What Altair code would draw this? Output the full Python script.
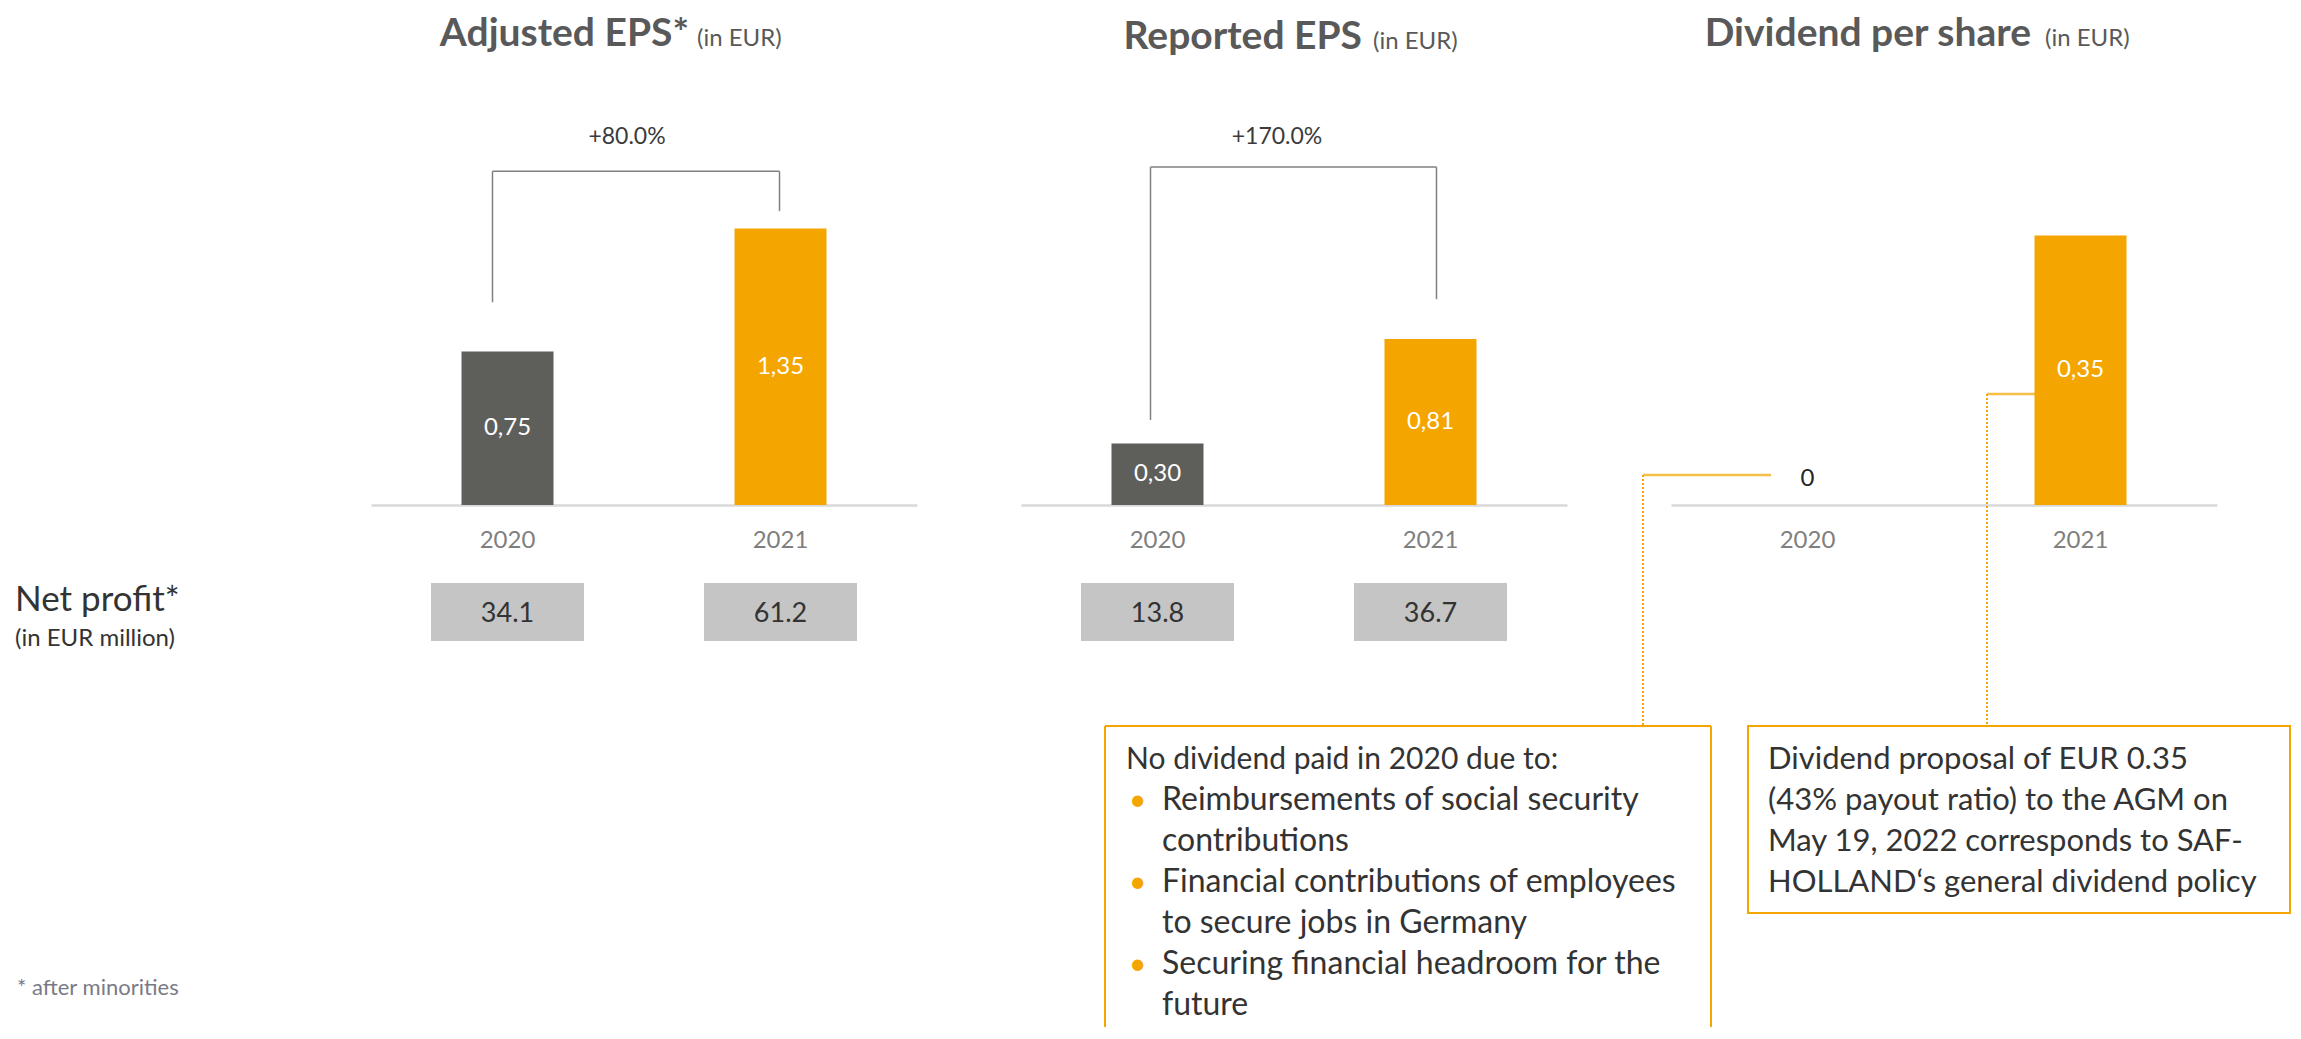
import altair as alt
import pandas as pd

# ---------------- data ----------------
years = ["2020", "2021"]
adjusted_eps = [0.75, 1.35]
reported_eps = [0.30, 0.81]
dividend_ps = [0.0, 0.35]
net_profit_adjusted = [34.1, 61.2]
net_profit_reported = [13.8, 36.7]
growth_labels = ["+80.0%", "+170.0%"]

panel_titles = ["Adjusted EPS*", "Reported EPS", "Dividend per share"]
title_unit = "(in EUR)"

bracket_top = [1.63, 1.65]
bracket_from = [0.99, 0.415]
bracket_to = [1.435, 1.005]

net_profit_title = "Net profit*"
net_profit_unit = "(in EUR million)"
footnote = "* after minorities"

box1_heading = "No dividend paid in 2020 due to:"
box1_lines = ["Reimbursements of social security", "contributions",
              "Financial contributions of employees", "to secure jobs in Germany",
              "Securing financial headroom for the", "future"]
box1_bullet_rows = [0, 2, 4]
bullet_char = "\u2022"
box2_lines = ["Dividend proposal of EUR 0.35", "(43% payout ratio) to the AGM on",
              "May 19, 2022 corresponds to SAF-", "HOLLAND\u2018s general dividend policy"]

# ---------------- style ----------------
FONT = "Lato"
ORANGE = "#f5a500"
ORANGE_LIGHT = "#f7be48"
BAR_GREY = "#5e5e5b"
BOX_GREY = "#c4c5c4"
TITLE_C = "#595959"
TEXT_C = "#333333"
YEAR_C = "#7f7f7f"
BRACKET_C = "#808080"
FOOT_C = "#7a7a86"

PANEL_W = 546
PANEL_H = 385
SPACING = 104
LINE_H = 41
BOTTOM = 907

one = alt.Data(values=[{"k": 0}])

xscale = alt.Scale(domain=years, paddingInner=0, paddingOuter=0)
xaxis = alt.Axis(title=None, labelAngle=0, labelFontSize=24, labelColor=YEAR_C, labelFont=FONT,
                 labelBaseline="alphabetic", labelPadding=42, ticks=False, tickSize=0,
                 domainColor="#d9d9d9", domainWidth=2.5, grid=False)


def xenc():
    return alt.X("year:N", sort=years, scale=xscale, axis=xaxis)


def ptext(txt, x, y, size, color, weight="normal", align="left", line_height=None):
    kw = dict(fontSize=size, color=color, fontWeight=weight, align=align,
              baseline="alphabetic", font=FONT)
    if line_height:
        kw["lineHeight"] = line_height
    return alt.Chart(one).mark_text(**kw).encode(x=alt.value(x), y=alt.value(y), text=alt.value(txt))


def prule(x, y, color, width, x2=None, y2=None, dash=None):
    enc = dict(x=alt.value(x), y=alt.value(y))
    if x2 is not None:
        enc["x2"] = alt.value(x2)
    if y2 is not None:
        enc["y2"] = alt.value(y2)
    kw = dict(color=color, strokeWidth=width)
    if dash:
        kw["strokeDash"] = dash
    return alt.Chart(one).mark_rule(**kw).encode(**enc)


def make_panel(values, ymax, title, title_end, unit_start, title_base,
               net_profit=None, growth=None, btop=None, bfrom=None, bto=None,
               left_off=0, right_off=0, label_dy=-30, extras=()):
    df = pd.DataFrame({
        "year": years,
        "value": values,
        "label": [("0" if v == 0 else f"{v:.2f}".replace(".", ",")) for v in values],
    })
    df["mid"] = df["value"] / 2
    yscale = alt.Scale(domain=[0, ymax], nice=False, zero=True)
    base = alt.Chart(df)
    layers = list(extras)
    layers.append(base.mark_bar(size=92).encode(
        x=xenc(),
        y=alt.Y("value:Q", scale=yscale, axis=None),
        color=alt.Color("year:N", scale=alt.Scale(domain=years, range=[BAR_GREY, ORANGE]), legend=None),
    ))
    layers.append(base.transform_filter("datum.value > 0").mark_text(
        color="white", fontSize=24, baseline="middle", font=FONT).encode(
        x=xenc(), y=alt.Y("mid:Q", scale=yscale, axis=None), text="label:N"))
    layers.append(base.transform_filter("datum.value == 0").mark_text(
        color="#262626", fontSize=24, baseline="middle", dy=-26, font=FONT).encode(
        x=xenc(), y=alt.Y("value:Q", scale=yscale, axis=None), text="label:N"))

    if net_profit is not None:
        npdf = pd.DataFrame({"year": years, "np": [f"{v:.1f}" for v in net_profit]})
        nb = alt.Chart(npdf)
        layers.append(nb.mark_bar(size=153, color=BOX_GREY).encode(
            x=xenc(), y=alt.value(463), y2=alt.value(521)))
        layers.append(nb.mark_text(fontSize=27, color=TEXT_C, baseline="middle", font=FONT).encode(
            x=xenc(), y=alt.value(494), text="np:N"))

    if growth is not None:
        bd = pd.DataFrame({"year": [years[0]], "year_end": [years[1]], "top": [btop],
                           "lb": [bfrom], "g": [growth]})
        rd = pd.DataFrame({"year": [years[1]], "top": [btop], "rb": [bto]})
        bb = alt.Chart(bd)
        layers.append(bb.mark_rule(color=BRACKET_C, strokeWidth=1.5, xOffset=left_off).encode(
            x=xenc(), y=alt.Y("lb:Q", scale=yscale, axis=None), y2="top:Q"))
        layers.append(bb.mark_rule(color=BRACKET_C, strokeWidth=1.5, xOffset=left_off,
                                   x2Offset=right_off).encode(
            x=xenc(), x2=alt.X2("year_end"), y=alt.Y("top:Q", scale=yscale, axis=None)))
        layers.append(alt.Chart(rd).mark_rule(color=BRACKET_C, strokeWidth=1.5, xOffset=right_off).encode(
            x=xenc(), y=alt.Y("rb:Q", scale=yscale, axis=None), y2="top:Q"))
        layers.append(bb.mark_text(fontSize=23, color="#3b3b3b", baseline="middle", dx=119.5,
                                   dy=label_dy, font=FONT).encode(
            x=xenc(), y=alt.Y("top:Q", scale=yscale, axis=None), text="g:N"))

    layers.append(ptext(title, title_end, title_base, 39, TITLE_C, weight="bold", align="right"))
    layers.append(ptext(title_unit, unit_start, title_base, 24, TITLE_C))
    return alt.layer(*layers).properties(width=PANEL_W, height=PANEL_H)


# panel 1 extras (relative to panel 1 plot origin)
p1_extras = [
    alt.Chart(one).mark_rect(opacity=0, color="white").encode(
        x=alt.value(-363), x2=alt.value(1921), y=alt.value(-112), y2=alt.value(BOTTOM)),
    ptext(net_profit_title, -356, 491, 35, TEXT_C),
    ptext(net_profit_unit, -356, 526, 24, TEXT_C),
    ptext(footnote, -354, 875, 22, FOOT_C),
]

# panel 3 extras (relative to panel 3 plot origin)
BOX_TEXT_TOP = 649
p3_extras = [
    prule(-28, 355, ORANGE_LIGHT, 2.5, x2=100),
    prule(-28, 355, ORANGE, 2, y2=606, dash=[2, 2]),
    prule(316, 274, ORANGE_LIGHT, 2.5, x2=365),
    prule(316, 274, ORANGE, 2, y2=606, dash=[2, 2]),
    # box 1 (open at the bottom, runs off the page)
    prule(-566, 606, ORANGE, 2, x2=40),
    prule(-566, 606, ORANGE, 2, y2=BOTTOM),
    prule(40, 606, ORANGE, 2, y2=BOTTOM),
    ptext(box1_heading, -545, BOX_TEXT_TOP, 30, TEXT_C),
    ptext(box1_lines, -509, BOX_TEXT_TOP + LINE_H, 32, TEXT_C, line_height=LINE_H),
]
for r in box1_bullet_rows:
    p3_extras.append(ptext(bullet_char, -542, BOX_TEXT_TOP + LINE_H * (r + 1), 30, ORANGE))
p3_extras += [
    # box 2
    alt.Chart(one).mark_rect(fill="white", stroke=ORANGE, strokeWidth=2).encode(
        x=alt.value(77), x2=alt.value(619), y=alt.value(606), y2=alt.value(793)),
    ptext(box2_lines, 97, BOX_TEXT_TOP, 31, TEXT_C, line_height=LINE_H),
]

p1 = make_panel(adjusted_eps, 1.88, panel_titles[0], 318, 326, -74,
                net_profit=net_profit_adjusted, growth=growth_labels[0],
                btop=bracket_top[0], bfrom=bracket_from[0], bto=bracket_to[0],
                left_off=-15, right_off=-1, label_dy=-34, extras=p1_extras)
p2 = make_panel(reported_eps, 1.88, panel_titles[1], 341, 352, -71,
                net_profit=net_profit_reported, growth=growth_labels[1],
                btop=bracket_top[1], bfrom=bracket_from[1], bto=bracket_to[1],
                left_off=-7, right_off=6, label_dy=-30)
p3 = make_panel(dividend_ps, 0.5, panel_titles[2], 360, 374, -74, extras=p3_extras)

chart = (
    alt.hconcat(p1, p2, p3, spacing=SPACING, bounds="flush")
    .properties(padding=0)
    .configure(font=FONT)
    .configure_view(strokeWidth=0)
)

chart.save("out.html", embed_options={"renderer": "svg", "actions": False})
